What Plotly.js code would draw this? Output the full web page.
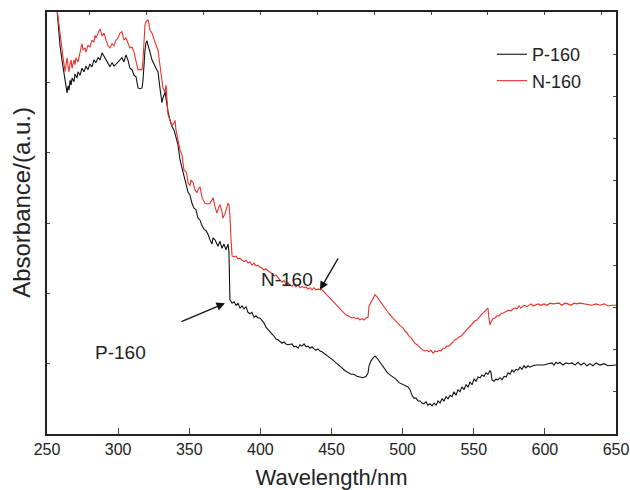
<!DOCTYPE html>
<html><head><meta charset="utf-8">
<script src="https://cdn.plot.ly/plotly-3.0.1.min.js"></script>
<style>html,body{margin:0;padding:0;background:#fff}#chart{width:630px;height:490px}</style>
</head><body><div id="chart"></div>
<script>
// P-160 (black) : wavelength (nm) and absorbance (a.u.)
var p160_wl = [257.0,259.1,260.5,262.0,263.4,264.1,264.8,265.5,266.2,266.9,267.6,269.0,269.7,271.1,271.8,273.2,274.6,276.0,277.4,278.8,280.2,281.6,283.0,284.4,285.9,287.3,288.7,290.1,291.5,292.9,294.3,295.7,297.1,298.5,299.9,301.3,302.7,304.1,305.5,306.9,308.3,309.8,311.2,312.6,313.3,314.0,315.4,316.8,317.5,318.2,318.9,319.6,320.3,321.0,321.7,322.4,323.8,325.2,326.6,328.0,328.7,329.4,330.8,331.5,333.0,333.7,335.1,336.5,337.9,339.3,340.7,342.1,343.5,344.9,346.3,347.7,349.1,350.5,351.9,353.3,354.7,356.1,357.6,359.0,360.4,361.8,363.2,364.6,366.0,366.7,368.1,370.2,371.6,373.0,374.4,375.8,377.2,377.9,378.6,380.1,381.5,382.9,384.3,385.7,387.1,388.5,389.9,391.3,392.7,394.1,395.5,396.9,398.3,399.7,401.1,402.5,403.9,405.4,406.8,408.2,409.6,411.0,412.4,413.8,415.2,416.6,418.0,419.4,420.8,422.2,423.6,425.0,426.5,427.9,429.3,430.7,432.1,433.5,434.9,436.3,437.7,439.1,440.5,441.9,443.3,445.4,447.5,448.9,451.1,453.2,455.3,457.4,459.5,461.6,463.7,465.8,467.9,470.0,472.1,474.3,475.7,476.4,477.8,479.2,480.6,482.0,483.4,484.8,486.2,487.6,489.0,491.1,493.2,495.3,497.5,499.6,501.7,503.8,505.2,506.6,508.0,509.4,510.8,512.2,513.6,515.0,516.4,517.8,519.2,520.7,522.1,523.5,524.9,526.3,527.7,529.1,530.5,531.9,533.3,534.7,536.1,537.5,538.9,540.3,541.7,543.1,544.6,546.0,547.4,548.8,550.2,551.6,553.0,554.4,555.8,557.2,558.6,560.0,561.4,562.1,562.8,564.2,565.6,567.0,568.5,569.9,571.3,572.7,574.1,575.5,576.9,578.3,579.7,581.1,582.5,583.9,585.3,586.7,588.1,589.5,591.7,593.8,596.6,599.4,602.2,605.0,606.4,607.8,609.2,610.6,612.7,614.8,616.9,619.1,621.2,623.3,625.4,627.5,629.6,631.7,633.8,636.0,638.8,641.6,644.4,647.2,650.0];
var p160_abs = [6.05,5.53,5.32,5.10,4.92,4.85,4.95,4.89,5.03,4.96,5.06,5.01,5.12,5.06,5.15,5.10,5.20,5.15,5.23,5.18,5.26,5.22,5.32,5.28,5.35,5.32,5.42,5.37,5.32,5.29,5.22,5.28,5.23,5.26,5.29,5.32,5.35,5.29,5.39,5.32,5.20,5.18,5.10,5.08,4.96,4.92,4.91,4.92,5.03,5.29,5.46,5.56,5.59,5.53,5.46,5.43,5.32,5.25,5.20,5.15,5.06,4.92,4.71,4.78,4.86,4.75,4.58,4.46,4.37,4.32,4.22,4.11,3.90,3.78,3.64,3.54,3.44,3.40,3.28,3.21,3.19,3.07,3.04,2.96,2.91,2.89,2.84,2.76,2.70,2.79,2.76,2.67,2.74,2.64,2.70,2.62,2.70,2.59,1.91,1.86,1.88,1.83,1.86,1.79,1.82,1.78,1.81,1.73,1.71,1.73,1.66,1.68,1.65,1.65,1.61,1.58,1.52,1.48,1.45,1.42,1.39,1.35,1.34,1.32,1.29,1.31,1.28,1.27,1.27,1.28,1.24,1.25,1.22,1.27,1.25,1.28,1.24,1.25,1.22,1.24,1.21,1.19,1.21,1.18,1.17,1.14,1.11,1.08,1.05,1.01,0.98,0.94,0.90,0.88,0.85,0.85,0.82,0.81,0.80,0.82,0.87,0.97,1.04,1.08,1.11,1.08,1.04,1.00,0.95,0.92,0.88,0.84,0.81,0.78,0.73,0.71,0.70,0.67,0.63,0.55,0.51,0.51,0.47,0.47,0.44,0.43,0.46,0.41,0.43,0.40,0.44,0.41,0.47,0.44,0.50,0.47,0.53,0.50,0.55,0.53,0.60,0.55,0.63,0.60,0.67,0.63,0.70,0.67,0.74,0.70,0.78,0.75,0.81,0.80,0.84,0.82,0.87,0.85,0.90,0.88,0.77,0.75,0.78,0.77,0.80,0.77,0.82,0.81,0.87,0.85,0.91,0.88,0.92,0.91,0.95,0.92,0.97,0.94,0.97,0.95,0.97,0.98,0.98,0.98,1.00,1.01,0.98,1.02,1.00,1.02,0.98,1.01,1.00,1.01,0.98,1.02,0.98,1.01,0.97,1.00,0.97,1.01,0.98,1.00,0.97,0.98,0.98];

// N-160 (red)
var n160_wl = [257.0,259.1,260.5,261.2,262.7,263.4,264.1,264.8,265.5,266.2,266.9,267.6,269.0,269.7,270.4,271.8,273.2,274.6,275.3,276.7,277.4,278.8,280.2,281.6,283.0,283.7,284.4,285.9,287.3,288.7,290.1,291.5,292.9,294.3,295.7,297.1,298.5,299.9,301.3,302.7,304.1,305.5,306.9,308.3,309.8,311.2,311.9,312.6,314.0,315.4,316.8,317.5,318.2,318.9,319.6,321.0,321.7,322.4,323.8,325.2,326.6,328.0,329.4,330.8,331.5,333.0,333.7,334.4,335.1,336.5,337.9,339.3,340.0,340.7,342.1,343.5,344.9,345.6,346.3,347.7,348.4,349.1,350.5,351.2,352.6,354.0,355.4,356.8,357.6,359.0,359.7,361.1,363.2,364.6,366.0,366.7,368.1,369.5,370.9,371.6,373.0,373.7,375.1,376.5,377.2,377.9,378.6,379.4,380.1,381.5,382.9,384.3,385.7,387.1,388.5,389.9,391.3,392.7,394.1,395.5,396.9,398.3,399.7,401.1,402.5,403.9,405.4,406.8,408.2,409.6,411.0,412.4,413.8,415.2,416.6,418.0,419.4,420.8,422.2,423.6,425.0,426.5,427.9,429.3,430.7,432.1,433.5,434.9,436.3,437.7,439.1,440.5,441.9,443.3,444.7,446.1,447.5,448.9,450.3,451.8,453.2,454.6,456.0,457.4,458.8,460.2,461.6,463.0,464.4,465.8,467.2,468.6,470.0,471.4,472.8,474.3,475.7,476.4,477.8,479.2,480.6,482.0,483.4,484.8,486.2,487.6,489.0,490.4,491.8,493.2,494.6,496.0,498.2,500.3,501.7,503.1,504.5,505.9,507.3,508.7,510.1,511.5,512.9,514.3,515.7,517.1,518.5,519.9,521.4,522.8,524.2,525.6,527.0,528.4,529.8,531.2,532.6,534.0,535.4,536.8,538.2,539.6,541.0,542.4,543.8,545.3,546.7,548.1,549.5,550.9,552.3,553.7,555.1,556.5,557.9,559.3,560.0,560.7,561.4,562.1,563.5,564.9,566.3,567.8,569.2,570.6,572.0,573.4,574.8,576.2,577.6,579.0,580.4,581.8,583.2,584.6,586.0,587.4,588.8,590.2,591.7,593.1,595.2,597.3,599.4,601.5,603.6,605.7,607.8,609.9,612.0,614.1,616.2,618.4,620.5,622.6,624.7,627.5,630.3,633.1,636.0,638.8,641.6,644.4,647.2,650.0];
var n160_abs = [6.05,5.67,5.46,5.37,5.15,5.26,5.35,5.23,5.15,5.26,5.32,5.20,5.32,5.25,5.35,5.29,5.40,5.55,5.46,5.49,5.43,5.53,5.50,5.60,5.57,5.67,5.63,5.69,5.76,5.66,5.70,5.60,5.52,5.49,5.55,5.52,5.60,5.63,5.70,5.72,5.60,5.63,5.55,5.49,5.50,5.43,5.36,5.29,5.18,5.18,5.18,5.32,5.67,5.82,5.86,5.89,5.83,5.74,5.70,5.60,5.53,5.46,5.22,4.96,4.92,4.86,4.96,4.75,4.54,4.46,4.39,4.42,4.46,4.32,4.18,4.04,3.97,3.82,3.75,3.73,3.68,3.57,3.53,3.61,3.58,3.47,3.43,3.50,3.51,3.36,3.33,3.28,3.27,3.28,3.33,3.36,3.23,3.14,3.23,3.26,3.16,3.07,3.13,3.21,3.28,3.26,3.11,2.76,2.53,2.52,2.53,2.49,2.50,2.47,2.45,2.47,2.43,2.45,2.40,2.43,2.39,2.40,2.37,2.36,2.33,2.35,2.32,2.30,2.28,2.25,2.26,2.22,2.19,2.16,2.18,2.13,2.15,2.12,2.10,2.13,2.09,2.12,2.08,2.10,2.08,2.09,2.06,2.08,2.05,2.08,2.05,2.06,2.05,2.05,2.02,1.99,1.96,1.93,1.91,1.88,1.85,1.82,1.79,1.76,1.72,1.69,1.68,1.66,1.65,1.66,1.64,1.65,1.62,1.64,1.62,1.65,1.66,1.82,1.88,1.93,1.98,1.95,1.91,1.86,1.82,1.79,1.75,1.71,1.68,1.65,1.61,1.58,1.54,1.51,1.46,1.44,1.39,1.37,1.32,1.29,1.27,1.24,1.22,1.19,1.18,1.19,1.17,1.19,1.15,1.18,1.17,1.19,1.18,1.22,1.22,1.25,1.25,1.28,1.31,1.34,1.35,1.38,1.39,1.42,1.45,1.48,1.51,1.54,1.58,1.61,1.62,1.66,1.69,1.72,1.75,1.78,1.79,1.65,1.55,1.59,1.64,1.65,1.68,1.68,1.71,1.72,1.73,1.75,1.76,1.75,1.78,1.79,1.78,1.82,1.79,1.82,1.83,1.81,1.83,1.85,1.82,1.83,1.85,1.83,1.85,1.83,1.86,1.85,1.85,1.86,1.83,1.86,1.85,1.83,1.86,1.85,1.86,1.85,1.85,1.83,1.85,1.83,1.85,1.82,1.83,1.83];

var seriesNames = ['P-160', 'N-160'];
var xTicks = [250,300,350,400,450,500,550,600,650];

var FONT = 'Liberation Sans, Arial, Helvetica, sans-serif';
var traces = [
  {x: p160_wl, y: p160_abs, name: seriesNames[0], type: 'scatter', mode: 'lines',
   line: {color: '#111111', width: 1.1}},
  {x: n160_wl, y: n160_abs, name: seriesNames[1], type: 'scatter', mode: 'lines',
   line: {color: '#e8322a', width: 1.1}},
  {x: [250], y: [0], xaxis: 'x2', yaxis: 'y2', mode: 'markers', marker: {opacity: 0}, showlegend: false, hoverinfo: 'skip'}
];

var layout = {
  width: 630, height: 490,
  margin: {l: 47, r: 14, t: 12, b: 56},
  paper_bgcolor: '#fff', plot_bgcolor: '#fff',
  font: {family: FONT, color: '#222', size: 16},
  showlegend: true,
  legend: {x: 0.782, y: 0.943, xanchor: 'left', yanchor: 'top', bgcolor: 'rgba(0,0,0,0)',
           font: {size: 18, family: FONT, color: '#222'}, tracegroupgap: 0},
  xaxis: {range: [250, 650], tickvals: xTicks, ticks: 'inside', ticklen: 6, tickwidth: 1.2,
          showline: true, linecolor: '#222', linewidth: 1.6, showgrid: false, zeroline: false,
          tickfont: {size: 16, family: FONT, color: '#222'},
          title: {text: 'Wavelength/nm', font: {size: 22, family: FONT, color: '#222'}, standoff: 14}},
  xaxis2: {range: [250, 650], dtick: 40, overlaying: 'x', side: 'top', anchor: 'y', ticks: 'inside', ticklen: 3,
           showline: true, linecolor: '#222', linewidth: 1.6, showgrid: false, zeroline: false, showticklabels: false},
  yaxis: {range: [0, 6], dtick: 1, ticks: 'inside', ticklen: 3, showline: true, linecolor: '#222', linewidth: 1.6,
          showgrid: false, zeroline: false, showticklabels: false},
  yaxis2: {range: [0, 10], dtick: 1, overlaying: 'y', side: 'right', anchor: 'x', ticks: 'inside', ticklen: 3,
           showline: true, linecolor: '#222', linewidth: 1.6, showgrid: false, zeroline: false, showticklabels: false},
  annotations: [
    {x: -0.044, y: 0.55, xref: 'paper', yref: 'paper', xanchor: 'center', yanchor: 'middle',
     text: 'Absorbance/(a.u.)', textangle: -90, showarrow: false,
     font: {size: 24, family: FONT, color: '#222'}},
    {x: 419, y: 2.20, xref: 'x', yref: 'y', text: 'N-160', showarrow: false, font: {size: 19, family: FONT, color: '#222'}},
    {x: 302, y: 1.16, xref: 'x', yref: 'y', text: 'P-160', showarrow: false, font: {size: 19, family: FONT, color: '#222'}},
    {x: 375.1, y: 1.86, xref: 'x', yref: 'y', text: '', showarrow: true, arrowhead: 2, arrowsize: 1.3, arrowwidth: 1.3,
     arrowcolor: '#111', ax: -45, ay: 19},
    {x: 441.9, y: 2.05, xref: 'x', yref: 'y', text: '', showarrow: true, arrowhead: 2, arrowsize: 1.3, arrowwidth: 1.3,
     arrowcolor: '#111', ax: 19, ay: -33}
  ]
};
Plotly.newPlot('chart', traces, layout, {displayModeBar: false, staticPlot: true});
</script></body></html>
